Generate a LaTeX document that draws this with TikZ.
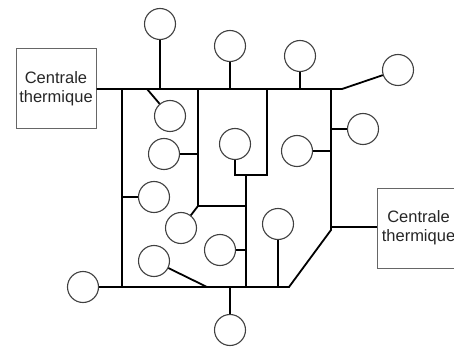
\documentclass[tikz,border=0pt]{standalone}
\usepackage{fontspec}
\setmainfont{Liberation Sans}

\begin{document}
\begin{tikzpicture}[x=1pt,y=-1pt,
  line/.style={line width=1.8pt},
  load/.style={circle,draw=black!75,line width=1.1pt,minimum size=31pt,inner sep=0pt},
  plant/.style={draw=black!60,line width=1pt,minimum width=80pt,minimum height=80pt,
    inner sep=0pt,align=center,text=black!85,font=\fontsize{16.5}{19}\selectfont}]
  \clip (0,0) rectangle (454,347);
  % centrales
  \node[plant] (plantW) at (56,89) {Centrale\\thermique};
  \node[plant,minimum width=83pt] (plantE) at (418.5,228) {Centrale\\thermique};
  % consommateurs
  \foreach \n/\x/\y in {c1/160/24,c2/230/46,c3/300/56,c4/398/70,c5/170/116,c6/164/154,
    c7/235/144,c8/297/151,c9/363/129,c10/154/197,c11/181/228,c12/220/250,
    c13/278/224,c14/154/261,c15/83/287,c16/230/330}
    \node[load] (\n) at (\x,\y) {};
  % points du reseau
  \foreach \n/\x/\y in {tA/122/89,tB/147/89,tC/160/89,tD/198/89,tE/230/89,tF/267/89,
    tG/300/89,tH/331/89,tI/342/89,bA/122/287,bB/207/287,bC/230/287,bD/246/287,
    bE/278/287,bF/289/287,mA/198/154,mB/198/206,mC/246/206,mD/246/175,mE/267/175,
    mF/235/175,mG/122/197,mH/246/250,rA/331/129,rB/331/151,rC/331/227,rD/331/230}
    \coordinate (\n) at (\x,\y);
  % lignes principales
  \draw[line] (plantW.east) -- (tI) -- (c4);
  \draw[line] (tA) -- (bA);
  \draw[line] (c15) -- (bF) -- (rD) -- (tH);
  \draw[line] (tD) -- (mB) -- (mC);
  \draw[line] (tF) -- (mE) -- (mF) -- (c7);
  \draw[line] (mD) -- (bD);
  \draw[line] (rC) -- (rC -| plantE.west);
  % branchements
  \draw[line] (tC) -- (c1);
  \draw[line] (tE) -- (c2);
  \draw[line] (tG) -- (c3);
  \draw[line] (tB) -- (c5);
  \draw[line] (mA) -- (c6);
  \draw[line] (rB) -- (c8);
  \draw[line] (rA) -- (c9);
  \draw[line] (mG) -- (c10);
  \draw[line] (mB) -- (c11);
  \draw[line] (mH) -- (c12);
  \draw[line] (bE) -- (c13);
  \draw[line] (bB) -- (c14);
  \draw[line] (bC) -- (c16);
\end{tikzpicture}
\end{document}
